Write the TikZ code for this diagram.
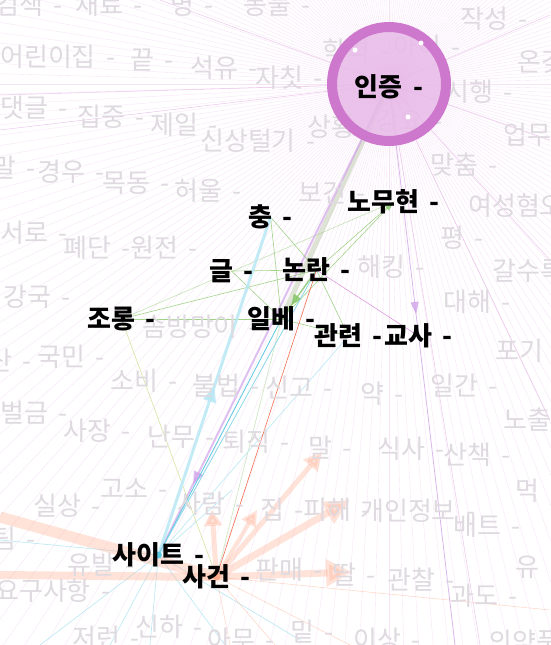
\documentclass[tikz,border=0pt]{standalone}
\usepackage{fontspec}
\setmainfont[WordSpace=1.8]{Noto Sans CJK KR}
\usetikzlibrary{arrows.meta,decorations.markings}
\definecolor{wgray}{RGB}{222,218,224}
\definecolor{ring}{RGB}{205,120,205}
\definecolor{hubfill}{RGB}{232,186,232}
\definecolor{rayc}{RGB}{230,170,230}
\definecolor{raystrong}{RGB}{215,130,215}
\definecolor{grn}{RGB}{140,200,110}
\definecolor{cyn}{RGB}{90,200,225}
\definecolor{lcyn}{RGB}{185,232,245}
\definecolor{sal}{RGB}{255,170,140}
\definecolor{redo}{RGB}{245,110,80}
\definecolor{lil}{RGB}{210,165,235}
\definecolor{bandc}{RGB}{200,210,185}
\definecolor{ygrn}{RGB}{215,228,160}
\pgfdeclarelayer{paper}
\pgfdeclarelayer{edges}
\pgfsetlayers{paper,edges,main}
\tikzset{
  word/.style={anchor=west, inner sep=0pt, text=wgray, font=\fontsize{26}{26}\selectfont},
  key/.style={anchor=west, inner sep=0pt, text=black, font=\fontsize{26}{26}\selectfont\bfseries},
  pinkray/.style={draw=rayc, line width=0.35pt, opacity=0.33},
  strongray/.style={draw=raystrong, line width=0.5pt, opacity=0.45},
  gedge/.style={draw=grn, line width=0.6pt, opacity=0.8},
  cedge/.style={draw=cyn, line width=0.8pt},
  thincyan/.style={draw=lcyn, line width=0.6pt},
  oband/.style={draw=sal, opacity=0.33, line cap=butt},
  othin/.style={draw=sal, line width=0.5pt, opacity=0.5},
  marr/.style 2 args={postaction={decorate}, decoration={markings, mark=at position #1 with {\arrow{#2}}}}
}
\begin{document}
\begin{tikzpicture}[x=1pt,y=-1pt]
\useasboundingbox (0,0) rectangle (550,645);
\begin{pgfonlayer}{paper}
\fill[white] (0,0) rectangle (550,645);
\end{pgfonlayer}

% background words
\node[word] (g1) at (-5,5) {검색 -};
\node[word] (g2) at (75,5) {재료 -};
\node[word] (g3) at (170,5) {명 -};
\node[word] (g4) at (243,5) {동물 -};
\node[word] (g5) at (0,57) {어린이집 -};
\node[word] (g6) at (130,60) {끝 -};
\node[word] (g7) at (190,68) {석유 -};
\node[word] (g8) at (255,78) {자칫 -};
\node[word] (g9) at (322,51) {학력 -};
\node[word] (g10) at (393,47) {아이 -};
\node[word] (g11) at (460,19) {작성 -};
\node[word] (g12) at (517,62) {온갖 -};
\node[word] (g13) at (445,92) {시행 -};
\node[word] (g14) at (307,127) {상황 -};
\node[word] (g15) at (375,121) {강요 -};
\node[word] (g16) at (503,135) {업무 -};
\node[word] (g17) at (0,108) {댓글 -};
\node[word] (g18) at (77,117) {집중 -};
\node[word] (g19) at (150,125) {제일 -};
\node[word] (g20) at (200,141) {신상털기 -};
\node[word] (g21) at (430,165) {맞춤 -};
\node[word] (g22) at (298,193) {보건 -};
\node[word] (g23) at (468,206) {여성혐오 -};
\node[word] (g24) at (440,238) {평 -};
\node[word] (g25) at (-8,168) {말 -};
\node[word] (g26) at (37,172) {경우 -};
\node[word] (g27) at (102,183) {목동 -};
\node[word] (g28) at (174,191) {허울 -};
\node[word] (g29) at (0,233) {서로 -};
\node[word] (g30) at (63,248) {폐단 -};
\node[word] (g31) at (130,248) {원전 -};
\node[word] (g32) at (3,297) {강국 -};
\node[word] (g33) at (357,267) {해킹 -};
\node[word] (g34) at (492,271) {갈수록 -};
\node[word] (g35) at (443,302) {대해 -};
\node[word] (g36) at (142,327) {솜방망이 -};
\node[word] (g37) at (-12,360) {산 -};
\node[word] (g38) at (37,357) {국민 -};
\node[word] (g39) at (110,381) {소비 -};
\node[word] (g40) at (192,386) {불법 -};
\node[word] (g41) at (265,388) {신고 -};
\node[word] (g42) at (360,394) {약 -};
\node[word] (g43) at (430,386) {일간 -};
\node[word] (g44) at (495,351) {포기 -};
\node[word] (g45) at (503,420) {노출 -};
\node[word] (g46) at (0,413) {벌금 -};
\node[word] (g47) at (63,431) {사장 -};
\node[word] (g48) at (147,437) {난무 -};
\node[word] (g49) at (222,442) {퇴직 -};
\node[word] (g50) at (308,448) {말 -};
\node[word] (g51) at (377,449) {식사 -};
\node[word] (g52) at (443,455) {산책 -};
\node[word] (g53) at (100,489) {고소 -};
\node[word] (g54) at (177,504) {사람 -};
\node[word] (g55) at (260,510) {집 -};
\node[word] (g56) at (303,510) {피해 -};
\node[word] (g57) at (360,511) {개인정보 -};
\node[word] (g58) at (515,491) {먹};
\node[word] (g59) at (453,526) {배트 -};
\node[word] (g60) at (33,506) {실상 -};
\node[word] (g61) at (-8,539) {팀 -};
\node[word] (g62) at (67,565) {유발 -};
\node[word] (g63) at (-5,591) {요구사항 -};
\node[word] (g64) at (255,570) {판매 -};
\node[word] (g65) at (332,575) {딸 -};
\node[word] (g66) at (387,580) {관찰 -};
\node[word] (g67) at (515,567) {유};
\node[word] (g68) at (450,596) {과도 -};
\node[word] (g69) at (72,638) {저런 -};
\node[word] (g70) at (135,627) {신하 -};
\node[word] (g71) at (207,640) {아무 -};
\node[word] (g72) at (290,632) {밑 -};
\node[word] (g73) at (353,640) {이상 -};
\node[word] (g74) at (488,642) {의약품};

% hub
\node[circle, draw=ring, fill=hubfill, fill opacity=0.85, line width=10pt, minimum size=114pt, inner sep=0pt] (hub) at (389,84) {};
\fill[white] (355,50) circle (2.5);
\fill[white] (421,43) circle (2.5);
\fill[white] (408,117) circle (2.5);

% key labels
\node[key, anchor=center] (injeung) at (389,87) {인증 -};
\node[key] (chung) at (248,217) {충 -};
\node[key] (nomuhyeon) at (347,202) {노무현 -};
\node[key] (geul) at (209,271) {글 -};
\node[key] (nonran) at (282,270) {논란 -};
\node[key] (jorong) at (87,319) {조롱 -};
\node[key] (ilbe) at (247,319) {일베 -};
\node[key] (gwanryeon) at (314,336) {관련 -};
\node[key] (gyosa) at (384,336) {교사 -};
\node[key] (saiteu) at (112,555) {사이트 -};
\node[key] (sageon) at (182,577) {사건 -};

% free ends
\coordinate (ol1) at (0,517);
\coordinate (ol2) at (0,575);
\coordinate (or1) at (352,572);
\coordinate (or2) at (350,500);
\coordinate (or3) at (322,452);
\coordinate (or4) at (212,510);
\coordinate (or5) at (257,510);
\coordinate (ob1) at (230,645);
\coordinate (ob2) at (275,645);
\coordinate (ob3) at (350,645);
\coordinate (ob4) at (550,610);
\coordinate (cb1) at (0,540);
\coordinate (cb2) at (40,645);
\coordinate (cb3) at (110,645);
\coordinate (cb4) at (150,645);
\coordinate (cb5) at (225,645);
\coordinate (cb6) at (300,640);
\coordinate (cb7) at (232,490);
\coordinate (pdn) at (455,645);
\coordinate (s1) at (550,15);
\coordinate (s2) at (550,140);
\coordinate (s3) at (0,95);
\coordinate (s4) at (0,130);
\coordinate (s5) at (480,645);
\coordinate (s6) at (550,420);
\coordinate (s7) at (160,0);
\coordinate (s8) at (550,260);

\begin{pgfonlayer}{edges}
  \foreach \a in {0,1.5,...,358.5}
    \draw[pinkray] (hub.center) -- ++(\a:820);
  \foreach \e in {s1,s2,s3,s4,s5,s6,s7,s8}
    \draw[strongray] (hub.center) -- (\e);

  % hub edges
  \draw[bandc, line width=5pt, opacity=0.6] (hub.center) -- (ilbe.center);
  \draw[lil, line width=2pt, opacity=0.7, marr={0.85}{Triangle[length=13pt,width=10pt,color=lil]}] (hub.center) -- (saiteu.center);
  \draw[lil, line width=0.8pt, opacity=0.8, marr={0.41}{Triangle[length=12pt,width=8pt,color=lil]}] (hub.center) -- (pdn);
  \draw[raystrong, line width=0.6pt, opacity=0.8] (nonran.center) -- (gyosa.center);

  % green edges
  \draw[gedge] (jorong.center) -- (nonran.center);
  \draw[gedge] (jorong.center) -- (ilbe.center);
  \draw[gedge, opacity=0.5] (jorong.center) -- (nomuhyeon.center);
  \draw[gedge] (geul.center) -- (nonran.center);
  \draw[gedge] (geul.center) -- (ilbe.center);
  \draw[gedge] (chung.center) -- (nonran.center);
  \draw[gedge] (chung.center) -- (ilbe.center);
  \draw[gedge, -{Triangle[length=9pt,width=7pt]}] (nonran.center) -- (nomuhyeon.center);
  \draw[gedge] (nomuhyeon.center) -- (ilbe.center);
  \draw[gedge] (nonran.center) -- (gwanryeon.center);
  \draw[gedge] (ilbe.center) -- (gwanryeon.center);
  \draw[grn, line width=1.4pt, opacity=0.85, marr={0.72}{Triangle[length=11pt,width=9pt,color=grn]}] (nonran.center) -- (ilbe.center);
  \draw[ygrn, line width=0.6pt] (jorong.center) -- (sageon.center);
  \draw[grn!45, line width=0.6pt] (ilbe.center) -- (sageon.center);

  % cyan edges
  \draw[lcyn, line width=3pt, opacity=0.85, marr={0.5}{Triangle[length=16pt,width=13pt,color=lcyn]}] (saiteu.center) -- (chung.center);
  \draw[cedge] (saiteu.center) -- (ilbe.center);
  \draw[cedge, draw=cyn!70] (saiteu.center) -- (nonran.center);
  \draw[thincyan] (saiteu.center) -- (gwanryeon.center);
  \foreach \e in {cb1,cb2,cb3,cb4,cb5,cb6,cb7}
    \draw[thincyan] (saiteu.center) -- (\e);

  % orange edges
  \draw[redo, line width=0.6pt] (sageon.center) -- (nonran.center);
  \draw[oband, line width=11pt] (sageon.center) -- (ol1);
  \draw[oband, line width=8pt] (sageon.center) -- (ol2);
  \draw[oband, line width=7pt, -{Triangle[length=26pt,width=26pt]}] (sageon.center) -- (or1);
  \draw[oband, line width=7pt, -{Triangle[length=26pt,width=24pt]}] (sageon.center) -- (or2);
  \draw[oband, line width=5pt, -{Triangle[length=18pt,width=18pt]}] (sageon.center) -- (or3);
  \draw[oband, line width=5pt, -{Triangle[length=16pt,width=18pt]}] (sageon.center) -- (or4);
  \draw[oband, line width=4pt, -{Triangle[length=16pt,width=16pt]}] (sageon.center) -- (or5);
  \foreach \e in {ob1,ob2,ob3,ob4}
    \draw[othin] (sageon.center) -- (\e);

  \fill[cyn] (saiteu.center) circle (3.5);
  \fill[sal] (sageon.center) circle (3.5);
\end{pgfonlayer}
\end{tikzpicture}
\end{document}
